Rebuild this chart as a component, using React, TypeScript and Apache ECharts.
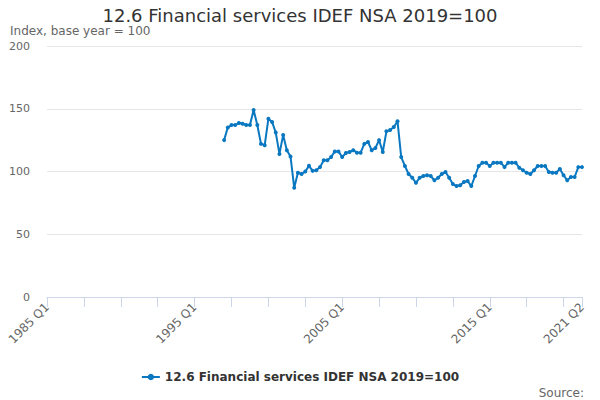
import React, { useEffect, useRef } from 'react';
import * as echarts from 'echarts';

const FONT = '"DejaVu Sans", "Noto Sans", sans-serif';
const SERIES_NAME = '12.6 Financial services IDEF NSA 2019=100';

// quarterly categories 1985 Q1 .. 2021 Q2
const firstYear = 1985;
const lastYear = 2021;
const lastQuarter = 2;
const quarters: string[] = [];
for (let y = firstYear; y <= lastYear; y++) {
  for (let q = 1; q <= 4; q++) {
    if (y === lastYear && q > lastQuarter) break;
    quarters.push(`${y} Q${q}`);
  }
}

// series begins at 1997 Q1
const seriesStart = '1997 Q1';
const indexValues: number[] = [
  125, 135, 137, 137, 138.6, 138, 137, 137, 149, 137,
  122, 121, 142, 139.5, 131, 114, 129, 117, 112, 87,
  99, 98, 100, 104.5, 100.5, 101, 103.5, 109, 109, 111.5,
  116, 116, 111.5, 114.7, 115.5, 117, 115, 115, 122, 123.5,
  117, 118.7, 125, 115.5, 132, 133, 135.5, 140, 111.5, 104.4,
  98, 95, 91, 95, 96.4, 97, 96.4, 93, 95, 98,
  99.6, 95, 90, 88.4, 89, 91.6, 92.4, 88.4, 96.4, 104.4,
  107, 107, 104.4, 107, 107, 107, 103.5, 107, 107, 107,
  103, 101, 99, 98, 101, 104.4, 104.4, 104.4, 99.6, 99,
  99, 102, 97, 93, 95.6, 95.6, 103.5, 103.5,
];

const yTicks = [0, 50, 100, 150, 200];
const labelEvery = 40;
const tickEvery = 10;

export default function App() {
  const ref = useRef<HTMLDivElement | null>(null);

  useEffect(() => {
    if (!ref.current) return;
    const chart = echarts.init(ref.current, undefined, { renderer: 'svg' });
    const offset = quarters.indexOf(seriesStart);
    const data: (number | null)[] = quarters.map((_, i) =>
      i >= offset && i - offset < indexValues.length ? indexValues[i - offset] : null,
    );
    const last = quarters.length - 1;

    chart.setOption({
      animation: false,
      textStyle: { fontFamily: FONT },
      title: [
        {
          text: '12.6 Financial services IDEF NSA 2019=100',
          left: 'center',
          top: 1,
          textStyle: { fontFamily: FONT, fontSize: 18, fontWeight: 'normal', color: '#333333' },
        },
        {
          text: 'Index, base year = 100',
          left: 10,
          top: 24,
          padding: 0,
          textStyle: { fontFamily: FONT, fontSize: 12, lineHeight: 14, fontWeight: 'normal', color: '#666666' },
        },
        {
          text: 'Source:',
          right: 11,
          top: 382,
          textStyle: { fontFamily: FONT, fontSize: 12, fontWeight: 'normal', color: '#666666' },
        },
      ],
      legend: {
        top: 366,
        left: 'center',
        itemWidth: 18,
        itemHeight: 8,
        data: [SERIES_NAME],
        textStyle: { fontFamily: FONT, fontSize: 12, fontWeight: 'bold', color: '#333333' },
      },
      grid: { left: 47, right: 18, top: 46, bottom: 103 },
      xAxis: {
        type: 'category',
        boundaryGap: false,
        data: quarters,
        axisLine: { lineStyle: { color: '#ccd6eb' } },
        axisTick: {
          show: true,
          length: 10,
          lineStyle: { color: '#ccd6eb' },
          interval: (i: number) => i % tickEvery === 0 || i === last,
        },
        axisLabel: {
          rotate: 45,
          margin: 8,
          color: '#666666',
          fontSize: 12,
          fontFamily: FONT,
          interval: (i: number) => i % labelEvery === 0 || i === last,
        },
        splitLine: { show: false },
      },
      yAxis: {
        type: 'value',
        min: yTicks[0],
        max: yTicks[yTicks.length - 1],
        interval: yTicks[1] - yTicks[0],
        axisLine: { show: false },
        axisTick: { show: false },
        axisLabel: { color: '#666666', fontSize: 11, fontFamily: FONT, margin: 17 },
        splitLine: { lineStyle: { color: '#e6e6e6' } },
      },
      series: [
        {
          name: SERIES_NAME,
          type: 'line',
          data,
          connectNulls: false,
          symbol: 'circle',
          symbolSize: 4,
          showSymbol: true,
          showAllSymbol: true,
          itemStyle: { color: '#0a78c1' },
          lineStyle: { width: 2, color: '#0a78c1' },
        },
      ],
    });

    return () => chart.dispose();
  }, []);

  return <div ref={ref} style={{ width: 600, height: 400, position: 'absolute', left: 0, top: 0 }} />;
}
